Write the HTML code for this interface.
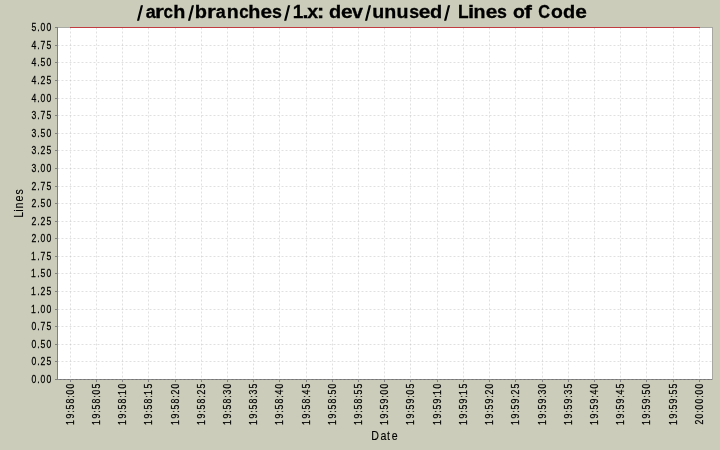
<!DOCTYPE html><html><head><meta charset="utf-8"><style>html,body{margin:0;padding:0;background:#CCCCBB;}svg{display:block;will-change:transform;}text{font-family:"Liberation Sans",sans-serif;fill:#000;}</style></head><body>
<svg width="720" height="450" viewBox="0 0 720 450">
<rect x="0" y="0" width="720" height="450" fill="#CCCCBB"/>
<rect x="57" y="27" width="656" height="353" fill="#fff"/>
<path d="M57.5 45.5H712 M57.5 62.5H712 M57.5 80.5H712 M57.5 98.5H712 M57.5 115.5H712 M57.5 133.5H712 M57.5 150.5H712 M57.5 168.5H712 M57.5 186.5H712 M57.5 203.5H712 M57.5 221.5H712 M57.5 238.5H712 M57.5 256.5H712 M57.5 273.5H712 M57.5 291.5H712 M57.5 309.5H712 M57.5 326.5H712 M57.5 344.5H712 M57.5 361.5H712 M70.5 27.5V379 M96.5 27.5V379 M122.5 27.5V379 M148.5 27.5V379 M175.5 27.5V379 M201.5 27.5V379 M227.5 27.5V379 M253.5 27.5V379 M279.5 27.5V379 M306.5 27.5V379 M332.5 27.5V379 M358.5 27.5V379 M384.5 27.5V379 M410.5 27.5V379 M437.5 27.5V379 M463.5 27.5V379 M489.5 27.5V379 M515.5 27.5V379 M542.5 27.5V379 M568.5 27.5V379 M594.5 27.5V379 M620.5 27.5V379 M646.5 27.5V379 M673.5 27.5V379 M699.5 27.5V379" stroke="#c0c0c0" stroke-width="0.5" stroke-dasharray="2 2" fill="none"/>
<path d="M57 27.5H712" stroke="#aaaaa5" stroke-width="1" fill="none" shape-rendering="crispEdges"/>
<path d="M712.5 27V380" stroke="#a8a8a0" stroke-width="1" fill="none" shape-rendering="crispEdges"/>
<path d="M58 379.5H712" stroke="#747474" stroke-width="1" fill="none" shape-rendering="crispEdges"/>
<path d="M57.5 379.5H712" stroke="#a0a0a0" stroke-width="0.5" stroke-dasharray="2 2" fill="none"/>
<path d="M57.5 27V380" stroke="#808080" stroke-width="1" fill="none" shape-rendering="crispEdges"/>
<path d="M55 27.5H57 M55 45.5H57 M55 62.5H57 M55 80.5H57 M55 98.5H57 M55 115.5H57 M55 133.5H57 M55 150.5H57 M55 168.5H57 M55 186.5H57 M55 203.5H57 M55 221.5H57 M55 238.5H57 M55 256.5H57 M55 273.5H57 M55 291.5H57 M55 309.5H57 M55 326.5H57 M55 344.5H57 M55 361.5H57 M55 379.5H57 M70.5 380V382 M96.5 380V382 M122.5 380V382 M148.5 380V382 M175.5 380V382 M201.5 380V382 M227.5 380V382 M253.5 380V382 M279.5 380V382 M306.5 380V382 M332.5 380V382 M358.5 380V382 M384.5 380V382 M410.5 380V382 M437.5 380V382 M463.5 380V382 M489.5 380V382 M515.5 380V382 M542.5 380V382 M568.5 380V382 M594.5 380V382 M620.5 380V382 M646.5 380V382 M673.5 380V382 M699.5 380V382" stroke="#808080" stroke-width="1" fill="none" shape-rendering="crispEdges"/>
<path d="M70 27.5H700" stroke="#c03c40" stroke-width="1" fill="none" shape-rendering="crispEdges"/>
<g font-size="18.5" font-weight="bold" stroke="#000" stroke-width="0.3">
<path d="M140.87 5.2H143.07L139.13 20.8H136.93Z" fill="#000" stroke="none"/>
<text transform="translate(151.15 18) scale(0.97 1)" x="-5.47">a</text>
<text transform="translate(160.06 18) scale(1.23 1)" x="-4.07">r</text>
<text transform="translate(168.4 18) scale(0.92 1)" x="-5.23">c</text>
<text transform="translate(179.3 18) scale(1.07 1)" x="-5.72">h</text>
<path d="M191.87 5.2H194.07L190.13 20.8H187.93Z" fill="#000" stroke="none"/>
<text transform="translate(201.1 18) scale(1.08 1)" x="-5.88">b</text>
<text transform="translate(211.9 18) scale(1.23 1)" x="-4.07">r</text>
<text transform="translate(221.1 18) scale(0.97 1)" x="-5.47">a</text>
<text transform="translate(232.9 18) scale(1.06 1)" x="-5.69">n</text>
<text transform="translate(244 18) scale(0.92 1)" x="-5.23">c</text>
<text transform="translate(254.4 18) scale(1.07 1)" x="-5.72">h</text>
<text transform="translate(266.3 18) scale(1.13 1)" x="-5.19">e</text>
<text transform="translate(277 18) scale(0.96 1)" x="-5.09">s</text>
<path d="M288.02 5.2H290.22L286.28 20.8H284.08Z" fill="#000" stroke="none"/>
<text transform="translate(298.4 18) scale(1.03 1)" x="-5.47">1</text>
<text transform="translate(305.5 18) scale(1.16 1)" x="-2.56">.</text>
<text transform="translate(312.7 18) scale(1.06 1)" x="-5.14">x</text>
<text transform="translate(320.64 18) scale(1.17 1)" x="-3.08">:</text>
<text transform="translate(334.9 18) scale(1.08 1)" x="-5.42">d</text>
<text transform="translate(346.8 18) scale(1.13 1)" x="-5.19">e</text>
<text transform="translate(357.4 18) scale(1.06 1)" x="-5.14">v</text>
<path d="M368.87 5.2H371.07L367.13 20.8H364.93Z" fill="#000" stroke="none"/>
<text transform="translate(378.23 18) scale(1.06 1)" x="-5.61">u</text>
<text transform="translate(390.31 18) scale(1.06 1)" x="-5.69">n</text>
<text transform="translate(402.39 18) scale(1.06 1)" x="-5.61">u</text>
<text transform="translate(414.12 18) scale(0.96 1)" x="-5.09">s</text>
<text transform="translate(424.56 18) scale(1.13 1)" x="-5.19">e</text>
<text transform="translate(435.79 18) scale(1.08 1)" x="-5.42">d</text>
<path d="M447.97 5.2H450.17L446.23 20.8H444.03Z" fill="#000" stroke="none"/>
<text transform="translate(463.5 18) scale(0.94 1)" x="-5.98">L</text>
<text transform="translate(471 18) scale(1.19 1)" x="-2.56">i</text>
<text transform="translate(479.6 18) scale(1.06 1)" x="-5.69">n</text>
<text transform="translate(491.6 18) scale(1.13 1)" x="-5.19">e</text>
<text transform="translate(501.9 18) scale(0.96 1)" x="-5.09">s</text>
<text transform="translate(518.8 18) scale(1.05 1)" x="-5.65">o</text>
<text transform="translate(528.3 18) scale(1.24 1)" x="-3.26">f</text>
<text transform="translate(544.2 18) scale(0.88 1)" x="-6.81">C</text>
<text transform="translate(557 18) scale(1.05 1)" x="-5.65">o</text>
<text transform="translate(568.9 18) scale(1.08 1)" x="-5.42">d</text>
<text transform="translate(581 18) scale(1.13 1)" x="-5.19">e</text>
</g>
<g font-size="11.4" transform="scale(0.76 1)" stroke="#000" stroke-width="0.25">
<text x="41.57 49.07 53.41 61.3" y="31">5.00</text>
<text x="41.57 49.07 53.41 61.3" y="49">4.75</text>
<text x="41.57 49.07 53.41 61.3" y="66">4.50</text>
<text x="41.57 49.07 53.41 61.3" y="84">4.25</text>
<text x="41.57 49.07 53.41 61.3" y="102">4.00</text>
<text x="41.57 49.07 53.41 61.3" y="119">3.75</text>
<text x="41.57 49.07 53.41 61.3" y="137">3.50</text>
<text x="41.57 49.07 53.41 61.3" y="154">3.25</text>
<text x="41.57 49.07 53.41 61.3" y="172">3.00</text>
<text x="41.57 49.07 53.41 61.3" y="190">2.75</text>
<text x="41.57 49.07 53.41 61.3" y="207">2.50</text>
<text x="41.57 49.07 53.41 61.3" y="225">2.25</text>
<text x="41.57 49.07 53.41 61.3" y="242">2.00</text>
<text x="40.91 49.07 53.41 61.3" y="260">1.75</text>
<text x="40.91 49.07 53.41 61.3" y="277">1.50</text>
<text x="40.91 49.07 53.41 61.3" y="295">1.25</text>
<text x="40.91 49.07 53.41 61.3" y="313">1.00</text>
<text x="41.57 49.07 53.41 61.3" y="330">0.75</text>
<text x="41.57 49.07 53.41 61.3" y="348">0.50</text>
<text x="41.57 49.07 53.41 61.3" y="365">0.25</text>
<text x="41.57 49.07 53.41 61.3" y="383">0.00</text>
</g>
<g font-size="11.4" stroke="#000" stroke-width="0.25">
<text transform="translate(74 424) rotate(-90) scale(0.76 1)" x="-1.33 7.36 14.86 19.2 27.09 34.6 38.94 46.83">19:58:00</text>
<text transform="translate(100 424) rotate(-90) scale(0.76 1)" x="-1.33 7.36 14.86 19.2 27.09 34.6 38.94 46.83">19:58:05</text>
<text transform="translate(126 424) rotate(-90) scale(0.76 1)" x="-1.33 7.36 14.86 19.2 27.09 34.6 38.15 46.83">19:58:10</text>
<text transform="translate(152 424) rotate(-90) scale(0.76 1)" x="-1.33 7.36 14.86 19.2 27.09 34.6 38.15 46.83">19:58:15</text>
<text transform="translate(179 424) rotate(-90) scale(0.76 1)" x="-1.33 7.36 14.86 19.2 27.09 34.6 38.94 46.83">19:58:20</text>
<text transform="translate(205 424) rotate(-90) scale(0.76 1)" x="-1.33 7.36 14.86 19.2 27.09 34.6 38.94 46.83">19:58:25</text>
<text transform="translate(231 424) rotate(-90) scale(0.76 1)" x="-1.33 7.36 14.86 19.2 27.09 34.6 38.94 46.83">19:58:30</text>
<text transform="translate(257 424) rotate(-90) scale(0.76 1)" x="-1.33 7.36 14.86 19.2 27.09 34.6 38.94 46.83">19:58:35</text>
<text transform="translate(283 424) rotate(-90) scale(0.76 1)" x="-1.33 7.36 14.86 19.2 27.09 34.6 38.94 46.83">19:58:40</text>
<text transform="translate(310 424) rotate(-90) scale(0.76 1)" x="-1.33 7.36 14.86 19.2 27.09 34.6 38.94 46.83">19:58:45</text>
<text transform="translate(336 424) rotate(-90) scale(0.76 1)" x="-1.33 7.36 14.86 19.2 27.09 34.6 38.94 46.83">19:58:50</text>
<text transform="translate(362 424) rotate(-90) scale(0.76 1)" x="-1.33 7.36 14.86 19.2 27.09 34.6 38.94 46.83">19:58:55</text>
<text transform="translate(388 424) rotate(-90) scale(0.76 1)" x="-1.33 7.36 14.86 19.2 27.09 34.6 38.94 46.83">19:59:00</text>
<text transform="translate(414 424) rotate(-90) scale(0.76 1)" x="-1.33 7.36 14.86 19.2 27.09 34.6 38.94 46.83">19:59:05</text>
<text transform="translate(441 424) rotate(-90) scale(0.76 1)" x="-1.33 7.36 14.86 19.2 27.09 34.6 38.15 46.83">19:59:10</text>
<text transform="translate(467 424) rotate(-90) scale(0.76 1)" x="-1.33 7.36 14.86 19.2 27.09 34.6 38.15 46.83">19:59:15</text>
<text transform="translate(493 424) rotate(-90) scale(0.76 1)" x="-1.33 7.36 14.86 19.2 27.09 34.6 38.94 46.83">19:59:20</text>
<text transform="translate(519 424) rotate(-90) scale(0.76 1)" x="-1.33 7.36 14.86 19.2 27.09 34.6 38.94 46.83">19:59:25</text>
<text transform="translate(546 424) rotate(-90) scale(0.76 1)" x="-1.33 7.36 14.86 19.2 27.09 34.6 38.94 46.83">19:59:30</text>
<text transform="translate(572 424) rotate(-90) scale(0.76 1)" x="-1.33 7.36 14.86 19.2 27.09 34.6 38.94 46.83">19:59:35</text>
<text transform="translate(598 424) rotate(-90) scale(0.76 1)" x="-1.33 7.36 14.86 19.2 27.09 34.6 38.94 46.83">19:59:40</text>
<text transform="translate(624 424) rotate(-90) scale(0.76 1)" x="-1.33 7.36 14.86 19.2 27.09 34.6 38.94 46.83">19:59:45</text>
<text transform="translate(650 424) rotate(-90) scale(0.76 1)" x="-1.33 7.36 14.86 19.2 27.09 34.6 38.94 46.83">19:59:50</text>
<text transform="translate(677 424) rotate(-90) scale(0.76 1)" x="-1.33 7.36 14.86 19.2 27.09 34.6 38.94 46.83">19:59:55</text>
<text transform="translate(703 424) rotate(-90) scale(0.76 1)" x="-0.54 7.36 14.86 19.2 27.09 34.6 38.94 46.83">20:00:00</text>
</g>
<text transform="translate(23 224) rotate(-90) scale(0.85 1)" font-size="12.5" stroke="#000" stroke-width="0.12" x="7.45 14.56 18.34 26.6 34.69">Lines</text>
<text transform="translate(0 440) scale(0.85 1)" font-size="12.5" stroke="#000" stroke-width="0.12" x="436.68 447.55 455.21 460.83">Date</text>
</svg></body></html>
